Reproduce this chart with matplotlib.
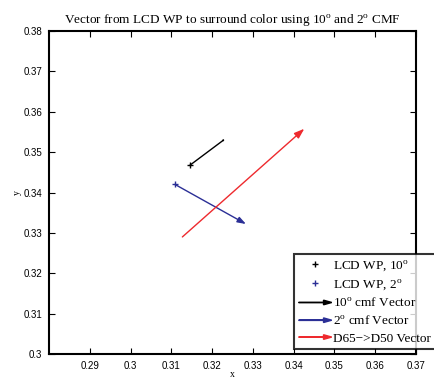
import numpy as np
import matplotlib.pyplot as plt
from matplotlib.patches import FancyArrow
from matplotlib.lines import Line2D
from matplotlib.legend_handler import HandlerPatch
from matplotlib.ticker import FuncFormatter

# white points and vector ends (x, y chromaticity)
wp10 = [0.3146, 0.3468]
end10 = [0.3232, 0.3533]
wp2 = [0.3109, 0.3420]
end2 = [0.3283, 0.3322]
d65 = [0.3127, 0.3290]
d50 = [0.3426, 0.3558]

blue = '#2b2f96'
red = '#ee2a2e'

xticks = [0.29, 0.30, 0.31, 0.32, 0.33, 0.34, 0.35, 0.36, 0.37]
yticks = [0.30, 0.31, 0.32, 0.33, 0.34, 0.35, 0.36, 0.37, 0.38]

fig = plt.figure(figsize=(4.34, 3.79), dpi=100)
ax = fig.add_axes([0.113, 0.066, 0.8455, 0.852])


def vec(p0, p1, color, head):
    ax.annotate('', xy=p1, xytext=p0,
                arrowprops=dict(arrowstyle='-|>,head_length=%g,head_width=%g' % (head, head * 0.35),
                                color=color, lw=1.0, shrinkA=0, shrinkB=0))


vec(wp10, end10, 'black', 0.05)
vec(wp2, end2, blue, 0.5)
vec(d65, d50, red, 0.6)
ax.plot(wp10[0], wp10[1], '+', color='black', ms=5, mew=1.0)
ax.plot(wp2[0], wp2[1], '+', color=blue, ms=5, mew=1.0)

ax.set_xlim(0.28, 0.37)
ax.set_ylim(0.30, 0.38)
ax.set_xticks(xticks)
ax.set_yticks(yticks)
fmt = FuncFormatter(lambda v, p: '%g' % round(v, 3))
ax.xaxis.set_major_formatter(fmt)
ax.yaxis.set_major_formatter(fmt)
ax.tick_params(direction='in', top=True, right=True, length=4, width=0.8,
               labelsize=7, pad=5)
for lab in ax.get_xticklabels() + ax.get_yticklabels():
    lab.set_fontfamily('Liberation Sans')
for s in ax.spines.values():
    s.set_linewidth(1.5)

ax.set_title('Vector from LCD WP to surround color using 10$^\\mathregular{o}$ and 2$^\\mathregular{o}$ CMF',
             fontfamily='Liberation Serif', fontsize=9.5, pad=5)
ax.set_xlabel('x', fontfamily='Liberation Serif', fontsize=7, labelpad=-1)
ax.set_ylabel('y', fontfamily='Liberation Serif', fontsize=7, labelpad=1)


def make_arrow(legend, orig_handle, xdescent, ydescent, width, height, fontsize):
    return FancyArrow(-xdescent, height / 2 - ydescent, width, 0, length_includes_head=True,
                      head_width=height * 0.5, head_length=width * 0.25, width=0.3)


handles = [
    Line2D([], [], ls='none', marker='+', color='black', ms=5),
    Line2D([], [], ls='none', marker='+', color=blue, ms=5),
    FancyArrow(0, 0, 1, 0, color='black'),
    FancyArrow(0, 0, 1, 0, color=blue),
    FancyArrow(0, 0, 1, 0, color=red),
]
labels = ['LCD WP, 10$^\\mathregular{o}$', 'LCD WP, 2$^\\mathregular{o}$',
          '10$^\\mathregular{o}$ cmf Vector', '2$^\\mathregular{o}$ cmf Vector',
          'D65\u2212>D50 Vector']
leg = ax.legend(handles, labels, loc='upper left', bbox_to_anchor=(0.668, 0.31),
                prop={'family': 'Liberation Serif', 'size': 9.5}, frameon=True,
                fancybox=False, edgecolor='black', borderpad=0.35, labelspacing=0.35,
                handlelength=2.5, handletextpad=0.1, borderaxespad=0,
                handler_map={FancyArrow: HandlerPatch(patch_func=make_arrow)})
leg.get_frame().set_linewidth(1.5)
leg.set_clip_on(False)

fig.savefig('out.png', dpi=100)
